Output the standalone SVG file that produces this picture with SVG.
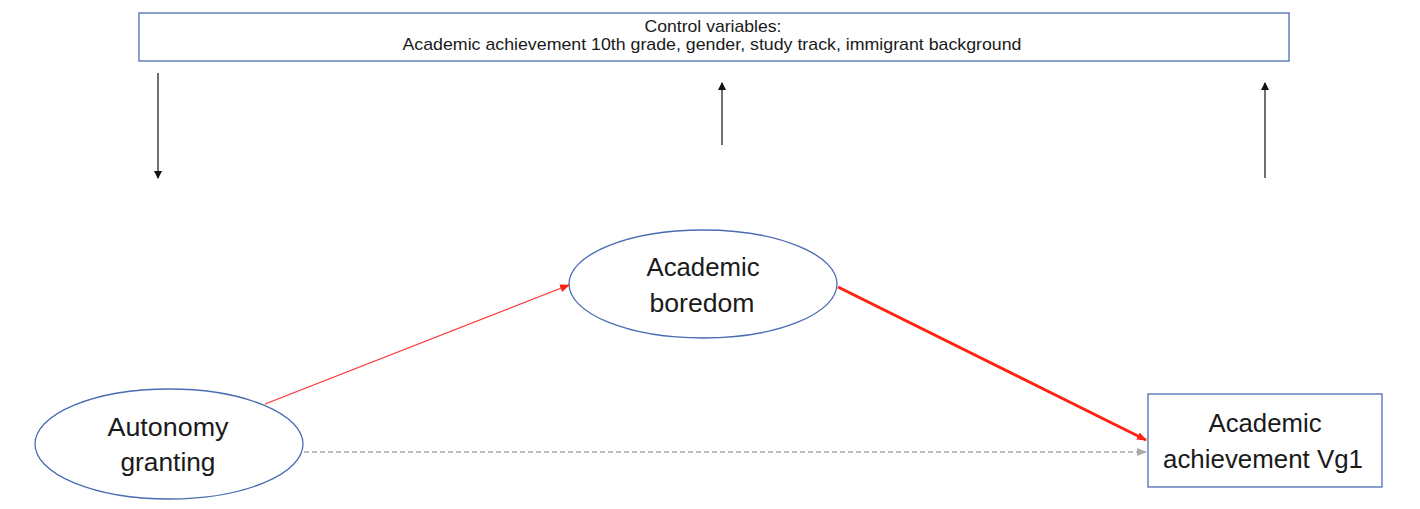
<svg xmlns="http://www.w3.org/2000/svg" width="1420" height="509" viewBox="0 0 1420 509">
<style>
.node{fill:#fff;stroke:#4a6cb3;stroke-width:1.3}
.t{font-family:"Liberation Sans",Arial,sans-serif;fill:#1a1a1a;text-anchor:middle}
.big{font-size:26px}
.small{font-size:17px}
.blk{stroke:#222;stroke-width:1.3;fill:none}
</style>
<defs>
<marker id="ab" markerWidth="8" markerHeight="8" refX="7" refY="4" orient="auto" markerUnits="userSpaceOnUse"><path d="M0,0 L8,4 L0,8 z" fill="#111"/></marker>
<marker id="ar" markerWidth="10" markerHeight="8" refX="9" refY="4" orient="auto" markerUnits="userSpaceOnUse"><path d="M0,0 L10,4 L0,8 z" fill="#f21"/></marker>
<marker id="ag" markerWidth="10" markerHeight="8" refX="9" refY="4" orient="auto" markerUnits="userSpaceOnUse"><path d="M0,0 L10,4 L0,8 z" fill="#aaa"/></marker>
</defs>
<rect width="1420" height="509" fill="#fff"/>
<g id="controls">
<rect class="node" x="139" y="13" width="1150" height="48"/>
<text class="t small" x="713" y="32" textLength="137" lengthAdjust="spacingAndGlyphs">Control variables:</text>
<text class="t small" x="712" y="50" textLength="619" lengthAdjust="spacingAndGlyphs">Academic achievement 10th grade, gender, study track, immigrant background</text>
</g>
<g id="autonomy">
<ellipse class="node" cx="169" cy="444" rx="134" ry="55"/>
<text class="t big" x="168" y="436" textLength="121" lengthAdjust="spacingAndGlyphs">Autonomy</text>
<text class="t big" x="168" y="471" textLength="95" lengthAdjust="spacingAndGlyphs">granting</text>
</g>
<g id="boredom">
<ellipse class="node" cx="703" cy="284" rx="134" ry="54"/>
<text class="t big" x="703" y="276" textLength="113" lengthAdjust="spacingAndGlyphs">Academic</text>
<text class="t big" x="702" y="312" textLength="105" lengthAdjust="spacingAndGlyphs">boredom</text>
</g>
<g id="achievement">
<rect class="node" x="1148" y="394" width="234" height="93"/>
<text class="t big" x="1265" y="432" textLength="113" lengthAdjust="spacingAndGlyphs">Academic</text>
<text class="t big" x="1263" y="468" textLength="200" lengthAdjust="spacingAndGlyphs">achievement Vg1</text>
</g>
<g id="connectors">
<line class="blk" x1="158" y1="73" x2="158" y2="178" marker-end="url(#ab)"/>
<line class="blk" x1="722" y1="145" x2="722" y2="83" marker-end="url(#ab)"/>
<line class="blk" x1="1265" y1="178" x2="1265" y2="83" marker-end="url(#ab)"/>
<line x1="265" y1="404" x2="569" y2="285" stroke="#f33" stroke-width="1.3" marker-end="url(#ar)"/>
<line x1="838" y1="287" x2="1146" y2="440" stroke="#f21" stroke-width="3" marker-end="url(#ar)"/>
<line x1="304" y1="452" x2="1146" y2="452" stroke="#aaa" stroke-width="1.3" stroke-dasharray="5,3" marker-end="url(#ag)"/>
</g>
</svg>
